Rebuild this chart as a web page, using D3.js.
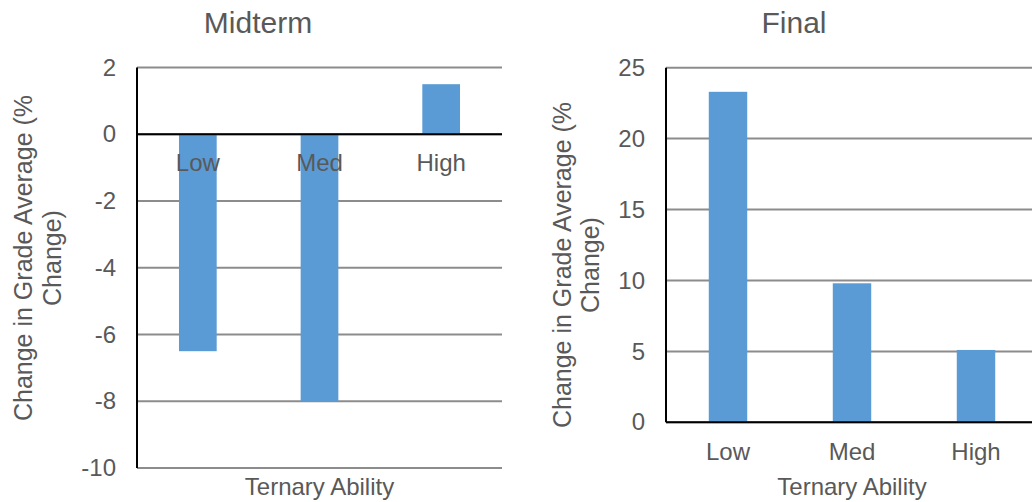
<!DOCTYPE html>
<html>
<head>
<meta charset="utf-8">
<script src="https://cdn.jsdelivr.net/npm/d3@7"></script>
<style>
  html, body { margin: 0; padding: 0; background: #fff; }
  svg { display: block; font-family: "Liberation Sans", Arial, sans-serif; }
</style>
</head>
<body>
<svg id="chart" width="1032" height="502"></svg>
<script>
const categories = ["Low", "Med", "High"];
const midtermValues = [-6.5, -8.0, 1.5];
const finalValues = [23.3, 9.8, 5.1];
const midtermTicks = [-10, -8, -6, -4, -2, 0, 2];
const finalTicks = [0, 5, 10, 15, 20, 25];
const titles = ["Midterm", "Final"];
const xTitle = "Ternary Ability";
const yTitleLines = ["Change in Grade Average (%", "Change)"];

const svg = d3.select("#chart");
const textColor = "#595959";
const gridColor = "#8c8c8c";
const barColor = "#5b9bd5";
const FONT = '"Liberation Sans", Arial, sans-serif';

function panel(cfg) {
  const g = svg.append("g");
  const x = d3.scaleBand().domain(categories).range([cfg.x0, cfg.x1]).paddingInner(0.69).paddingOuter(0.345);
  const y = d3.scaleLinear().domain(cfg.domain).range([cfg.yBottom, cfg.yTop]);

  // gridlines
  g.append("g").selectAll("line").data(cfg.ticks).join("line")
    .attr("x1", cfg.x0).attr("x2", cfg.x1)
    .attr("y1", d => y(d)).attr("y2", d => y(d))
    .attr("stroke", gridColor).attr("stroke-width", 2);

  // bars
  g.append("g").selectAll("rect").data(cfg.values).join("rect")
    .attr("x", (d, i) => x(categories[i]))
    .attr("width", x.bandwidth())
    .attr("y", d => y(Math.max(0, d)))
    .attr("height", d => Math.abs(y(d) - y(0)))
    .attr("fill", barColor);

  // y axis tick labels
  const yAxis = d3.axisLeft(y).tickValues(cfg.ticks).tickSize(0).tickPadding(21).tickFormat(d => String(d));
  const ya = g.append("g").attr("transform", `translate(${cfg.x0},0)`).call(yAxis);
  ya.select(".domain").remove();
  ya.selectAll("text").attr("fill", textColor).style("font-size", "24px").style("font-family", FONT);

  // zero axis line (horizontal)
  g.append("line").attr("x1", cfg.x0).attr("x2", cfg.x1)
    .attr("y1", y(0)).attr("y2", y(0)).attr("stroke", "#000").attr("stroke-width", 2);
  // vertical axis line
  g.append("line").attr("x1", cfg.x0).attr("x2", cfg.x0)
    .attr("y1", cfg.yTop).attr("y2", cfg.yBottom).attr("stroke", "#000").attr("stroke-width", 2);

  // category labels
  const xAxis = d3.axisBottom(x).tickSize(0).tickPadding(cfg.catPad);
  const xa = g.append("g").attr("transform", `translate(0,${y(0)})`).call(xAxis);
  xa.select(".domain").remove();
  xa.selectAll("text").attr("fill", textColor).style("font-size", "24px").style("font-family", FONT);

  // titles
  g.append("text").attr("x", cfg.titleX).attr("y", 33).attr("text-anchor", "middle")
    .attr("fill", textColor).style("font-size", "30px").text(cfg.title);
  g.append("text").attr("x", (cfg.x0 + cfg.x1) / 2).attr("y", 495).attr("text-anchor", "middle")
    .attr("fill", textColor).style("font-size", "24px").text(xTitle);

  const yt = g.append("text").attr("transform", `translate(${cfg.yTitleX},${cfg.yTitleY}) rotate(-90)`)
    .attr("text-anchor", "middle").attr("fill", textColor).style("font-size", "25px");
  yTitleLines.forEach((t, i) => {
    yt.append("tspan").attr("x", 0).attr("y", i * cfg.lineGap).text(t);
  });
}

panel({
  x0: 137, x1: 502, yTop: 67.5, yBottom: 468, domain: [-10, 2],
  ticks: midtermTicks, values: midtermValues, title: titles[0], titleX: 258,
  catPad: 20, yTitleX: 32, yTitleY: 258, lineGap: 29
});
panel({
  x0: 666, x1: 1038, yTop: 67.7, yBottom: 422.3, domain: [0, 25],
  ticks: finalTicks, values: finalValues, title: titles[1], titleX: 794,
  catPad: 21, yTitleX: 571, yTitleY: 265, lineGap: 28
});
</script>
</body>
</html>
